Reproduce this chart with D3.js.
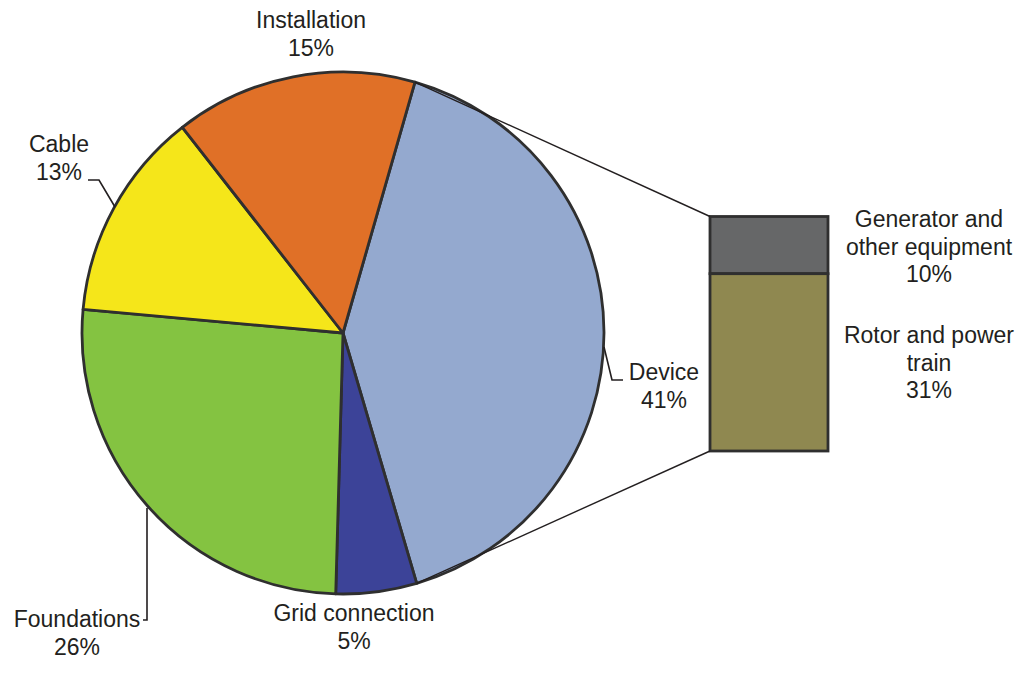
<!DOCTYPE html>
<html>
<head>
<meta charset="utf-8">
<script src="https://cdn.jsdelivr.net/npm/d3@7"></script>
<style>
  html, body { margin: 0; padding: 0; background: #fff; }
  svg { display: block; }
  text { font-family: "Liberation Sans", Arial, sans-serif; font-size: 23px; fill: #231f20; }
</style>
</head>
<body>
<svg id="chart" width="1028" height="675"></svg>
<script>
const categories = ["Device", "Grid connection", "Foundations", "Cable", "Installation"];
const values = [41, 5, 26, 13, 15];
const sliceColors = ["#94a9cf", "#3c4398", "#84c341", "#f5e61a", "#e07027"];
const subCategories = ["Generator and other equipment", "Rotor and power train"];
const subValues = [10, 31];
const subColors = ["#666768", "#8f8850"];

const svg = d3.select("#chart");
const cx = 343, cy = 333, r = 261;
const startA = 16 * Math.PI / 180;

const pie = d3.pie().sort(null).value(d => d.v)
  .startAngle(startA).endAngle(startA + 2 * Math.PI);
const arcs = pie(categories.map((c, i) => ({ c, v: values[i], col: sliceColors[i] })));
const arc = d3.arc().innerRadius(0).outerRadius(r);

const gPie = svg.append("g").attr("transform", `translate(${cx},${cy})`);
gPie.selectAll("path").data(arcs).enter().append("path")
  .attr("d", arc)
  .attr("fill", d => d.data.col)
  .attr("stroke", "#2f2f2f")
  .attr("stroke-width", 2.8)
  .attr("stroke-linejoin", "round");

// Bar of pie
const bx0 = 710, bx1 = 828;
const y = d3.scaleLinear().domain([0, d3.sum(subValues)]).range([216.5, 451]);
const stack = [];
let acc = 0;
subValues.forEach((v, i) => { stack.push({ k: subCategories[i], y0: acc, y1: acc + v, col: subColors[i] }); acc += v; });
svg.append("g").selectAll("rect").data(stack).enter().append("rect")
  .attr("x", bx0).attr("width", bx1 - bx0)
  .attr("y", d => y(d.y0)).attr("height", d => y(d.y1) - y(d.y0))
  .attr("fill", d => d.col)
  .attr("stroke", "#2f2f2f").attr("stroke-width", 2.8);

// Connector lines from Device slice edges to the bar
const dev = arcs[0];
const pt = a => [cx + r * Math.sin(a), cy - r * Math.cos(a)];
const p1 = pt(dev.startAngle), p2 = pt(dev.endAngle);
svg.append("line").attr("x1", p1[0]).attr("y1", p1[1]).attr("x2", bx0).attr("y2", y(0))
  .attr("stroke", "#231f20").attr("stroke-width", 1.4);
svg.append("line").attr("x1", p2[0]).attr("y1", p2[1]).attr("x2", bx0).attr("y2", y(d3.sum(subValues)))
  .attr("stroke", "#231f20").attr("stroke-width", 1.4);

// Leader lines
const leaders = [
  [[88, 180], [99, 180], [115, 207]],
  [[604, 347], [612, 380], [623, 380]],
  [[147, 508], [147, 620], [143, 620]]
];
svg.append("g").selectAll("path").data(leaders).enter().append("path")
  .attr("d", d => d3.line()(d))
  .attr("fill", "none").attr("stroke", "#231f20").attr("stroke-width", 1.6);

// Labels
const pct = v => v + "%";
const labels = [
  { lines: [categories[4], pct(values[4])], x: 311, y: 28 },
  { lines: [categories[3], pct(values[3])], x: 59, y: 152 },
  { lines: [categories[0], pct(values[0])], x: 664, y: 380 },
  { lines: [categories[1], pct(values[1])], x: 354, y: 621 },
  { lines: [categories[2], pct(values[2])], x: 77, y: 627 },
  { lines: ["Generator and", "other equipment", pct(subValues[0])], x: 929, y: 227 },
  { lines: ["Rotor and power", "train", pct(subValues[1])], x: 929, y: 343 }
];
const lh = 27.5;
labels.forEach(L => {
  const t = svg.append("text").attr("text-anchor", "middle");
  L.lines.forEach((s, i) => {
    t.append("tspan").attr("x", L.x).attr("y", L.y + i * lh).text(s);
  });
});
</script>
</body>
</html>
